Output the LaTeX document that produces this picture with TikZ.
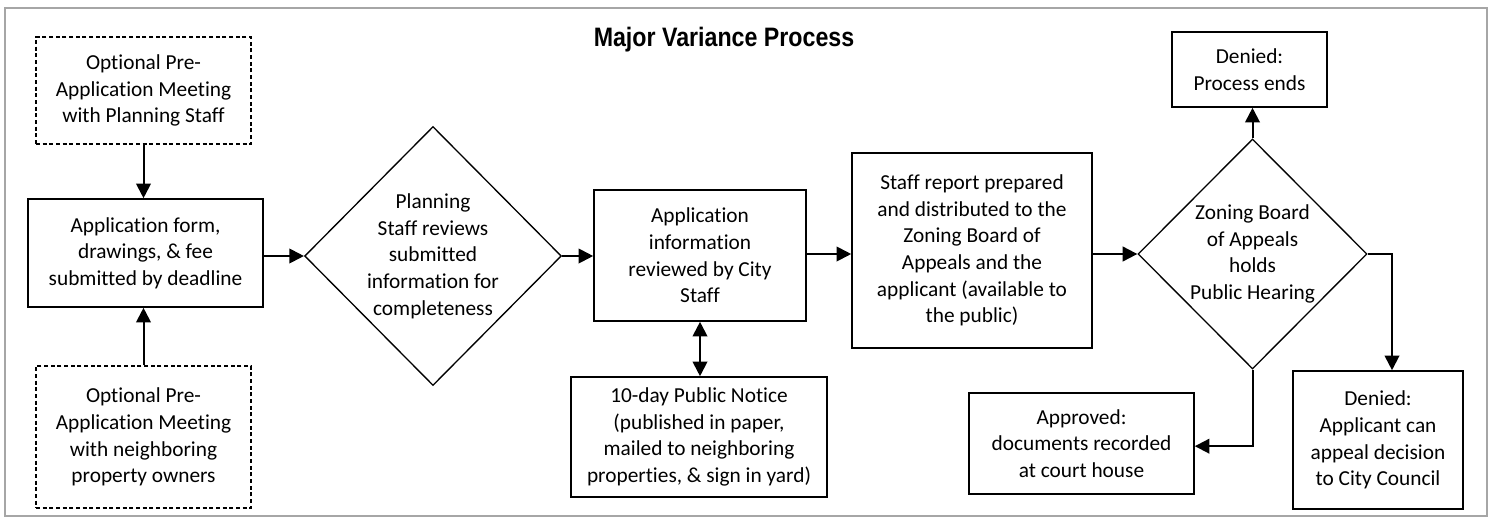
\documentclass[tikz,border=0pt]{standalone}
\usepackage{fontspec}
\setmainfont{Carlito}[Ligatures=NoCommon]
\newfontfamily\titlefont{Liberation Sans}[FakeStretch=0.87]
\usetikzlibrary{arrows.meta,shapes.geometric}

\begin{document}
\begin{tikzpicture}[x=0.75pt,y=-0.75pt,
  font=\fontsize{16}{20}\selectfont,
  box/.style={draw, line width=1.2pt, align=center, inner sep=0pt},
  optbox/.style={draw, dash pattern=on 3pt off 2pt, line width=0.8pt, align=center, inner sep=0pt},
  decision/.style={diamond, draw, line width=1pt, align=center, inner sep=0pt},
  flow/.style={line width=1.5pt, -{Triangle[length=11pt,width=11pt]}},
  twoway/.style={line width=1.5pt, {Triangle[length=11pt,width=11pt]}-{Triangle[length=11pt,width=11pt]}}]
\useasboundingbox (0,0) rectangle (1494,518);
\draw[gray!70, line width=1pt] (5,8) rectangle (1487,516);

\node (title) at (724,40) {\titlefont\bfseries\fontsize{20}{24}\selectfont Major Variance Process};

% left column
\node[optbox, minimum width=161.25pt, minimum height=80.25pt] (pre1) at (143.5,90.5)
  {Optional Pre-\\Application Meeting\\with Planning Staff};
\node[box, minimum width=176.25pt, minimum height=81pt] (app) at (145.5,253)
  {Application form,\\drawings, \& fee\\submitted by deadline};
\node[optbox, minimum width=161.25pt, minimum height=106.5pt] (pre2) at (143.5,437)
  {Optional Pre-\\Application Meeting\\with neighboring\\property owners};

% review
\node[decision, minimum width=192pt, minimum height=194.25pt] (chk) at (433,256)
  {Planning\\Staff reviews\\submitted\\information for\\completeness};
\node[box, minimum width=159pt, minimum height=98.25pt] (rev) at (700,255.5)
  {Application\\information\\reviewed by City\\Staff};
\node[box, minimum width=192pt, minimum height=90pt] (notice) at (699,437)
  {10-day Public Notice\\(published in paper,\\mailed to neighboring\\properties, \& sign in yard)};
\node[box, minimum width=180pt, minimum height=146.25pt] (rpt) at (972,250.5)
  {Staff report prepared\\and distributed to the\\Zoning Board of\\Appeals and the\\applicant (available to\\the public)};

% hearing and outcomes
\node[decision, minimum width=171.75pt, minimum height=172.5pt] (zba) at (1252.5,254)
  {Zoning Board\\of Appeals\\holds\\Public Hearing};
\node[box, minimum width=116.25pt, minimum height=56.25pt] (deny1) at (1249.5,69.5)
  {Denied:\\Process ends};
\node[box, minimum width=127.5pt, minimum height=103.5pt] (deny2) at (1378,440)
  {Denied:\\Applicant can\\appeal decision\\to City Council};
\node[box, minimum width=168.75pt, minimum height=75.75pt] (appr) at (1081.5,443.5)
  {Approved:\\documents recorded\\at court house};

\draw[flow] (pre1.south) -- (pre1.south |- app.north);
\draw[flow] (pre2.north) -- (pre2.north |- app.south);
\draw[flow] (chk.west -| app.east) -- (chk.west);
\draw[flow] (chk.east) -- (chk.east -| rev.west);
\draw[flow] (rev.east |- zba.west) -- (rpt.west |- zba.west);
\draw[flow] (rpt.east |- zba.west) -- (zba.west);
\draw[twoway] (rev.south) -- (rev.south |- notice.north);
\draw[flow] (zba.north) -- (zba.north |- deny1.south);
\draw[flow] (zba.east) -| ([xshift=10.5pt]deny2.north);
\draw[flow] (zba.south) |- ([yshift=-2pt]appr.east);
\end{tikzpicture}
\end{document}
